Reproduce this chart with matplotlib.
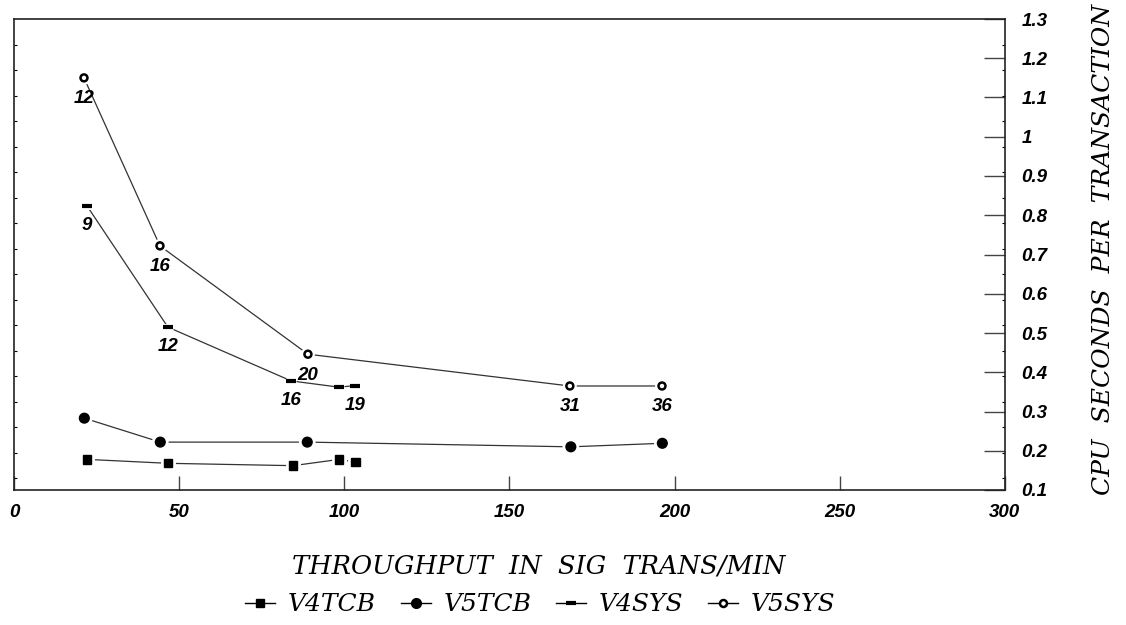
import numpy as np
import matplotlib
matplotlib.use("Agg")
import matplotlib.pyplot as plt
from matplotlib import patheffects
from matplotlib.ticker import MultipleLocator

# data
v4tcb_x = [22.1, 46.6, 84.5, 98.5, 103.4]
v4tcb_y = [0.178, 0.168, 0.162, 0.178, 0.171]

v5tcb_x = [21.3, 44.3, 88.8, 168.6, 196.3]
v5tcb_y = [0.283, 0.222, 0.222, 0.210, 0.219]

v4sys_x = [22.1, 46.6, 83.9, 98.4, 103.3]
v4sys_y = [0.824, 0.515, 0.378, 0.362, 0.366]
v4sys_lbl = ["9", "12", "16", "", "19"]

v5sys_x = [21.2, 44.2, 89.0, 168.3, 196.2]
v5sys_y = [1.150, 0.722, 0.446, 0.365, 0.365]
v5sys_lbl = ["12", "16", "20", "31", "36"]

xticks = [0, 50, 100, 150, 200, 250, 300]
yticks = [0.1, 0.2, 0.3, 0.4, 0.5, 0.6, 0.7, 0.8, 0.9, 1.0, 1.1, 1.2, 1.3]
ytick_lbl = ["0.1", "0.2", "0.3", "0.4", "0.5", "0.6", "0.7", "0.8", "0.9", "1", "1.1", "1.2", "1.3"]

num_font = dict(family="Liberation Sans", weight="bold", style="italic")
lab_font = dict(family="DejaVu Serif", style="italic")

fig = plt.figure(figsize=(11.26, 6.25), dpi=100)
ax = fig.add_axes([0.0124, 0.216, 0.880, 0.7536])

halo = [patheffects.withStroke(linewidth=5, foreground="white")]
series = [
    (v4tcb_x, v4tcb_y, dict(marker="s", markersize=6, mfc="black", mec="black"), "V4TCB"),
    (v5tcb_x, v5tcb_y, dict(marker="o", markersize=7, mfc="black", mec="black"), "V5TCB"),
    (v4sys_x, v4sys_y, dict(marker="_", markersize=7, mew=3, mfc="black", mec="black"), "V4SYS"),
    (v5sys_x, v5sys_y, dict(marker="o", markersize=5, mew=1.8, mfc="white", mec="black"), "V5SYS"),
]
handles = []
for xs, ys, mk, name in series:
    ax.plot(xs, ys, color="#333333", lw=0.9, zorder=2)
    ax.plot(xs, ys, ls="none", zorder=3, path_effects=halo, **mk)
    h, = ax.plot([], [], color="black", lw=1.0, **mk)
    handles.append(h)

for x, y, t in zip(v4sys_x, v4sys_y, v4sys_lbl):
    ax.annotate(t, (x, y), xytext=(0, -8), textcoords="offset points",
                ha="center", va="top", fontsize=13.5, **num_font)
for x, y, t in zip(v5sys_x, v5sys_y, v5sys_lbl):
    ax.annotate(t, (x, y), xytext=(0, -9), textcoords="offset points",
                ha="center", va="top", fontsize=13.5, **num_font)

ax.set_xlim(0, 300)
ax.set_ylim(0.1, 1.3)
ax.set_xticks(xticks)
ax.set_xticklabels([str(v) for v in xticks], **num_font, fontsize=13.5)
ax.set_yticks(yticks)
ax.set_yticklabels(ytick_lbl, **num_font, fontsize=13.5)
ax.yaxis.tick_right()
ax.yaxis.set_minor_locator(MultipleLocator(0.065))
ax.tick_params(axis="y", which="major", direction="in", length=15, width=1,
               pad=12, color="#444444", left=False, right=True)
ax.tick_params(axis="y", which="minor", direction="in", length=2, width=0.8,
               left=True, right=True)
ax.tick_params(axis="x", which="major", direction="in", length=10, width=1,
               pad=10, color="#444444")
for s in ax.spines.values():
    s.set_linewidth(1.2)
    s.set_color("#222222")

ax.set_xlabel("THROUGHPUT  IN  SIG  TRANS/MIN", fontsize=18.5, **lab_font)
ax.xaxis.set_label_coords(0.53, -0.135)
ax.yaxis.set_label_position("right")
ax.set_ylabel("CPU  SECONDS  PER  TRANSACTION", fontsize=18, **lab_font)
ax.yaxis.set_label_coords(1.088, 0.51)

fig.legend(handles, ["V4TCB", "V5TCB", "V4SYS", "V5SYS"], loc="lower center",
           bbox_to_anchor=(0.48, -0.022), ncol=4, frameon=False, handlelength=1.2,
           handletextpad=0.5, columnspacing=1.0,
           prop=dict(family="DejaVu Serif", style="italic", size=18))

fig.savefig("out.png", dpi=100)
